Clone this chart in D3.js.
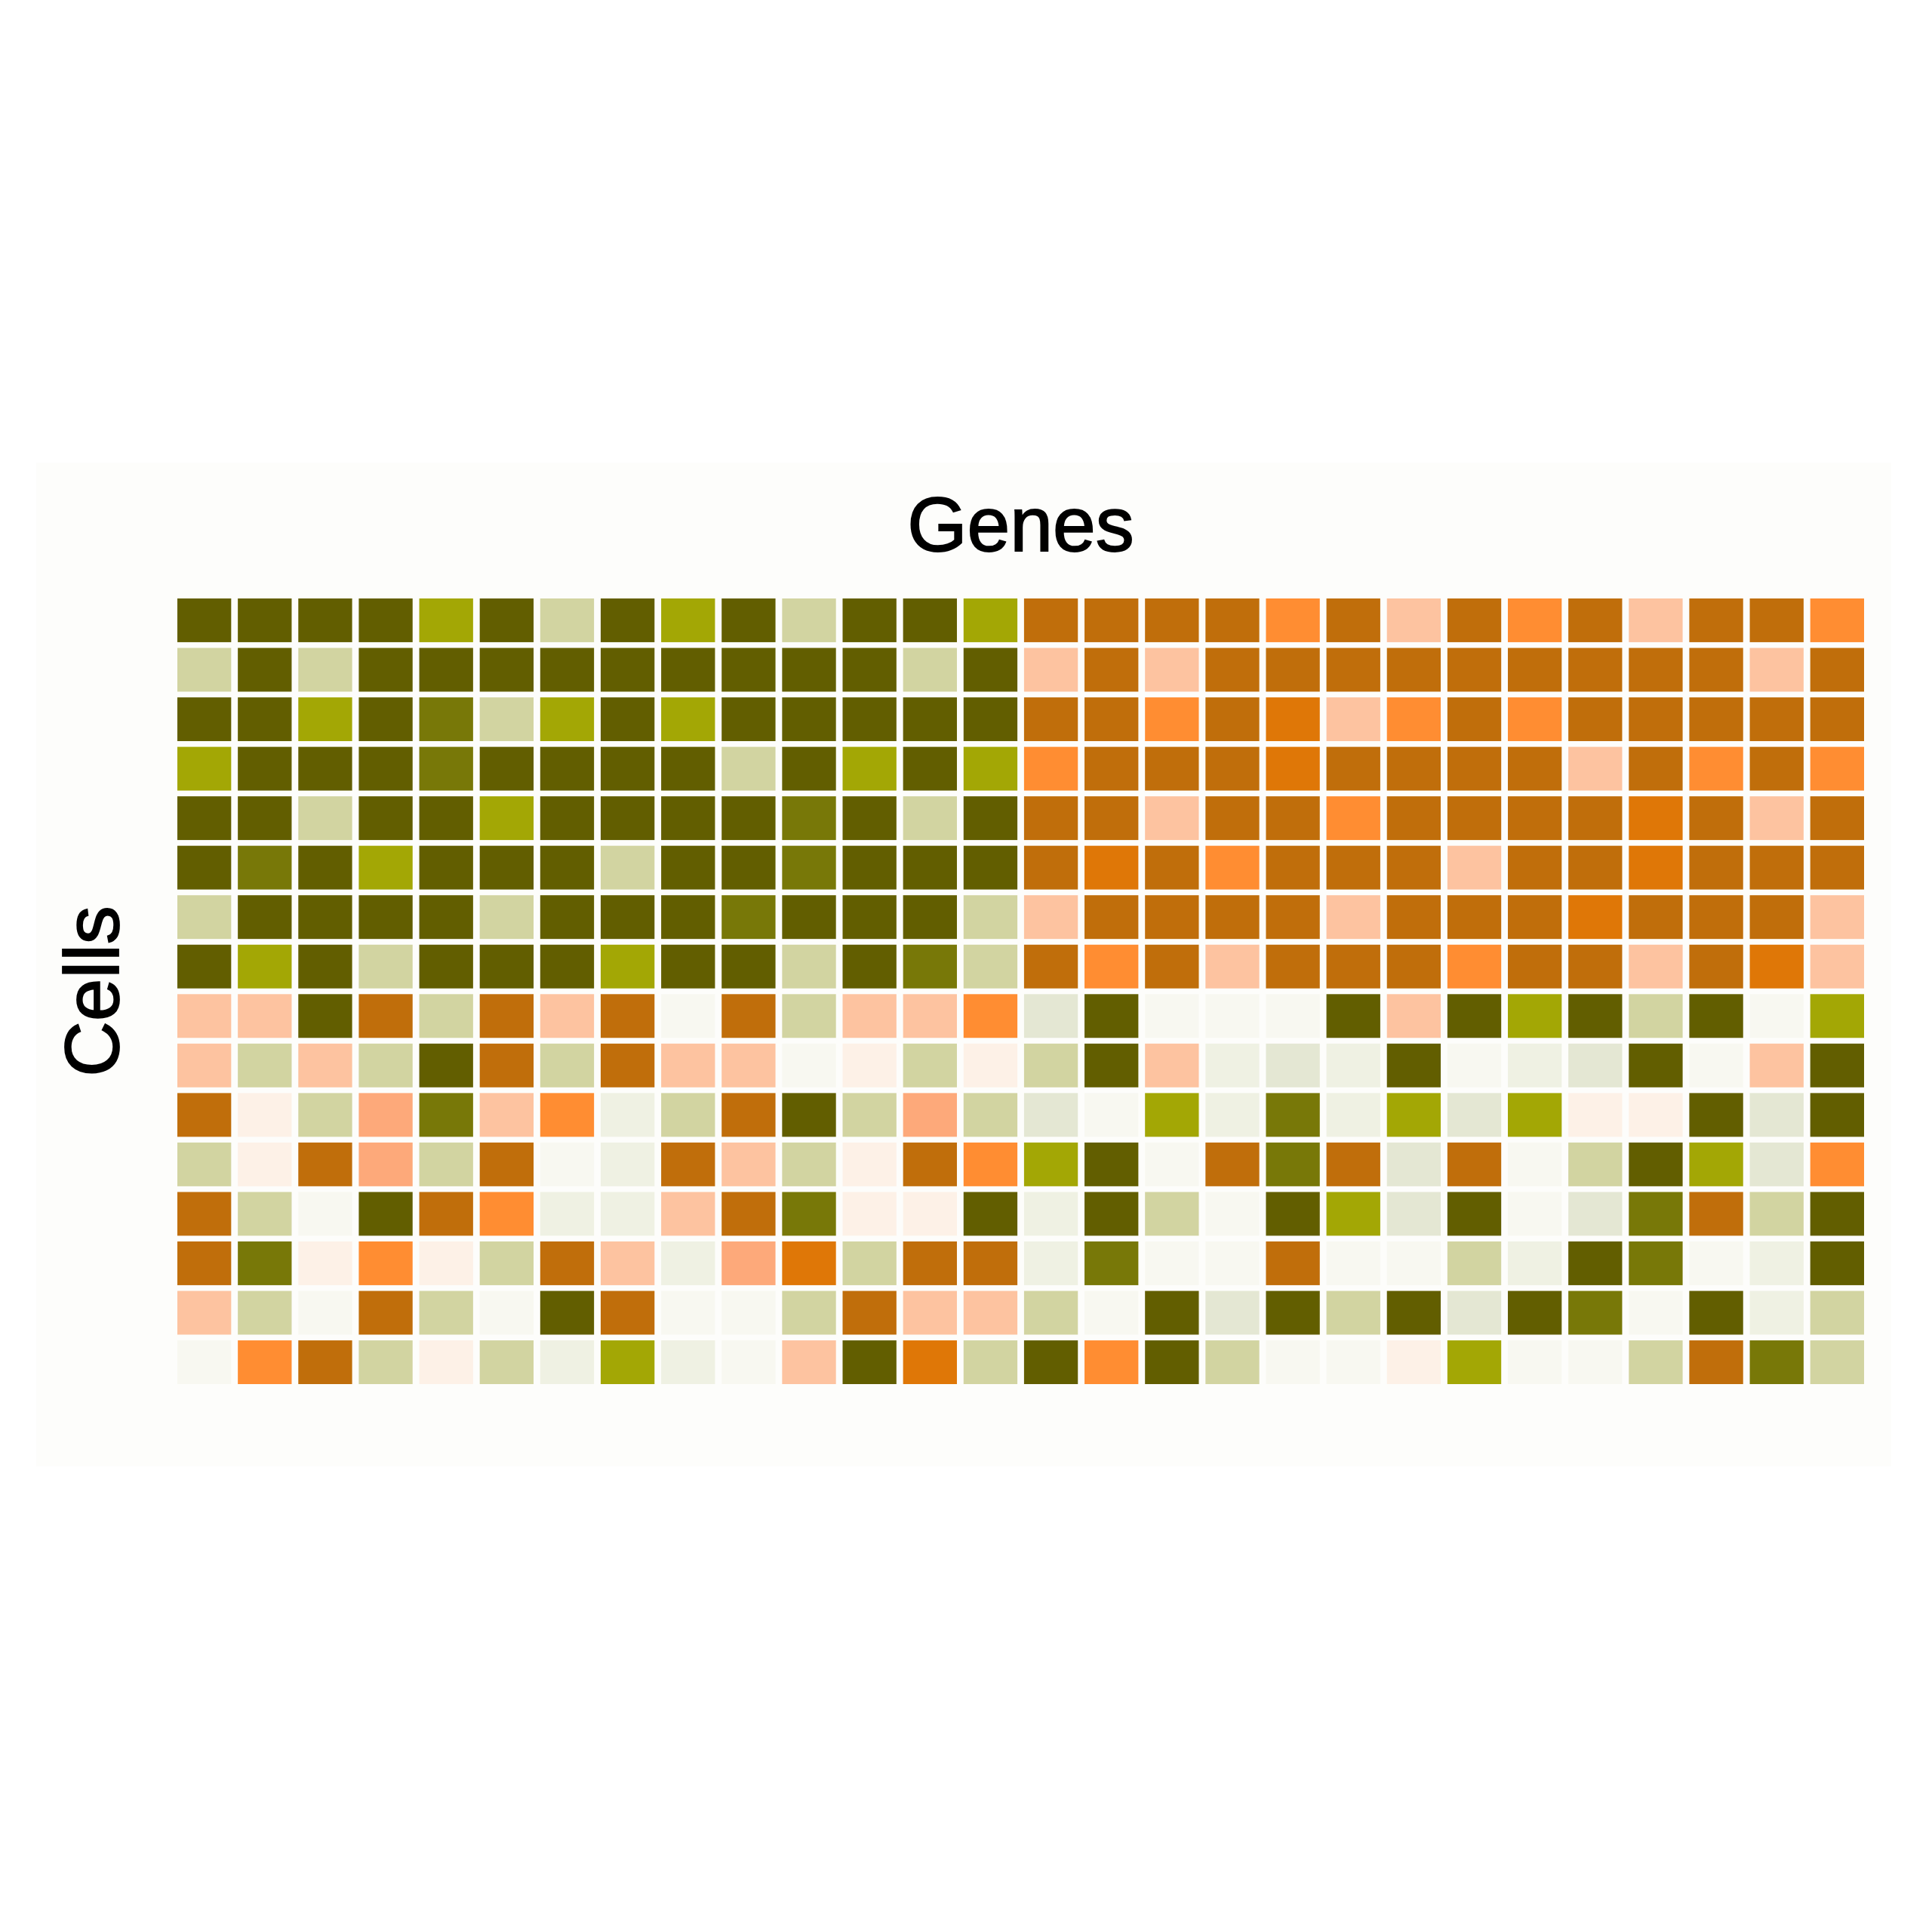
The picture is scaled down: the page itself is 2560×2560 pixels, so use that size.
<!DOCTYPE html>
<html>
<head>
<meta charset="utf-8">
<script src="https://cdn.jsdelivr.net/npm/d3@7"></script>
<style>
  html, body { margin: 0; padding: 0; background: #ffffff; }
  svg { display: block; }
</style>
</head>
<body>
<div id="chart"></div>
<script>
// ---- data ----
const genes = d3.range(1, 29).map(i => "G" + i);
const cells = d3.range(1, 17).map(i => "C" + i);

// expression level codes: +6 (dark olive) ... 0 (neutral) ... -6 (dark orange)
const levels = [6, 5, 4, 3, 2, 1, 0, -1, -2, -3, -4, -5, -6];
const levelColors = ["#625e00", "#787808", "#a3a705", "#d2d4a1", "#e4e7d3", "#eff1e3", "#f8f8f1",
                     "#fdf1e7", "#fdc3a0", "#fda97a", "#ff8d32", "#df7707", "#c06e0b"];

const row01 = [6,6,6,6,4,6,3,6,4,6,3,6,6,4, -6,-6,-6,-6,-4,-6,-2,-6,-4,-6,-2,-6,-6,-4];
const row02 = [3,6,3,6,6,6,6,6,6,6,6,6,3,6, -2,-6,-2,-6,-6,-6,-6,-6,-6,-6,-6,-6,-2,-6];
const row03 = [6,6,4,6,5,3,4,6,4,6,6,6,6,6, -6,-6,-4,-6,-5,-2,-4,-6,-4,-6,-6,-6,-6,-6];
const row04 = [4,6,6,6,5,6,6,6,6,3,6,4,6,4, -4,-6,-6,-6,-5,-6,-6,-6,-6,-2,-6,-4,-6,-4];
const row05 = [6,6,3,6,6,4,6,6,6,6,5,6,3,6, -6,-6,-2,-6,-6,-4,-6,-6,-6,-6,-5,-6,-2,-6];
const row06 = [6,5,6,4,6,6,6,3,6,6,5,6,6,6, -6,-5,-6,-4,-6,-6,-6,-2,-6,-6,-5,-6,-6,-6];
const row07 = [3,6,6,6,6,3,6,6,6,5,6,6,6,3, -2,-6,-6,-6,-6,-2,-6,-6,-6,-5,-6,-6,-6,-2];
const row08 = [6,4,6,3,6,6,6,4,6,6,3,6,5,3, -6,-4,-6,-2,-6,-6,-6,-4,-6,-6,-2,-6,-5,-2];
const row09 = [-2,-2,6,-6,3,-6,-2,-6,0,-6,3,-2,-2,-4, 2,6,0,0,0,6,-2,6,4,6,3,6,0,4];
const row10 = [-2,3,-2,3,6,-6,3,-6,-2,-2,0,-1,3,-1, 3,6,-2,1,2,1,6,0,1,2,6,0,-2,6];
const row11 = [-6,-1,3,-3,5,-2,-4,1,3,-6,6,3,-3,3, 2,0,4,1,5,1,4,2,4,-1,-1,6,2,6];
const row12 = [3,-1,-6,-3,3,-6,0,1,-6,-2,3,-1,-6,-4, 4,6,0,-6,5,-6,2,-6,0,3,6,4,2,-4];
const row13 = [-6,3,0,6,-6,-4,1,1,-2,-6,5,-1,-1,6, 1,6,3,0,6,4,2,6,0,2,5,-6,3,6];
const row14 = [-6,5,-1,-4,-1,3,-6,-2,1,-3,-5,3,-6,-6, 1,5,0,0,-6,0,0,3,1,6,5,0,1,6];
const row15 = [-2,3,0,-6,3,0,6,-6,0,0,3,-6,-2,-2, 3,0,6,2,6,3,6,2,6,5,0,6,1,3];
const row16 = [0,-4,-6,3,-1,3,1,4,1,0,-2,6,-5,3, 6,-4,6,3,0,0,-1,4,0,0,3,-6,5,3];
const matrix = [row01,row02,row03,row04,row05,row06,row07,row08,row09,row10,row11,row12,row13,row14,row15,row16];

const xTitle = "Genes";
const yTitle = "Cells";

// ---- drawing ----
const W = 2560, H = 2560;
const svg = d3.select("#chart").append("svg").attr("width", W).attr("height", H);

svg.append("rect").attr("x", 0).attr("y", 0).attr("width", W).attr("height", H).attr("fill", "#ffffff");
// panel
svg.append("rect").attr("x", 48).attr("y", 613).attr("width", 2458).attr("height", 1330).attr("fill", "#fdfdfb");

const x = d3.scaleBand().domain(genes).range([235, 2470]).paddingInner(0.11).paddingOuter(0);
const y = d3.scaleBand().domain(cells).range([793, 1834]).paddingInner(0.116).paddingOuter(0);
const color = d3.scaleOrdinal().domain(levels).range(levelColors);

const data = [];
matrix.forEach((row, ri) => row.forEach((v, ci) => data.push({ cell: cells[ri], gene: genes[ci], v })));

svg.append("g").selectAll("rect").data(data).join("rect")
  .attr("x", d => x(d.gene))
  .attr("y", d => y(d.cell))
  .attr("width", x.bandwidth())
  .attr("height", y.bandwidth())
  .attr("fill", d => color(d.v));

const font = "'Liberation Sans', Arial, Helvetica, sans-serif";
svg.append("text")
  .attr("x", (x.range()[0] + x.range()[1]) / 2)
  .attr("y", 730)
  .attr("text-anchor", "middle")
  .attr("font-family", font)
  .attr("font-size", 102)
  .attr("fill", "#000")
  .attr("stroke", "#000")
  .attr("stroke-width", 1.8)
  .text(xTitle);

svg.append("text")
  .attr("transform", `translate(157, ${(y.range()[0] + y.range()[1]) / 2}) rotate(-90)`)
  .attr("text-anchor", "middle")
  .attr("font-family", font)
  .attr("font-size", 102)
  .attr("fill", "#000")
  .attr("stroke", "#000")
  .attr("stroke-width", 1.8)
  .text(yTitle);
</script>
</body>
</html>
